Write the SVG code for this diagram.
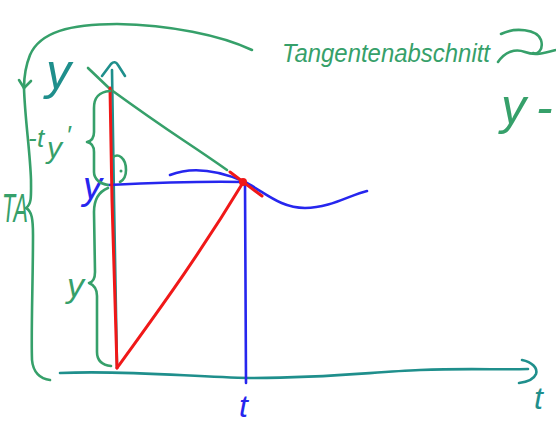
<svg xmlns="http://www.w3.org/2000/svg" width="556" height="425" viewBox="0 0 556 425">
<style>
.g{fill:none;stroke:#36a06a;stroke-width:2.6;stroke-linecap:round;stroke-linejoin:round}
.tl{fill:none;stroke:#1f8f8c;stroke-width:2.6;stroke-linecap:round;stroke-linejoin:round}
.b{fill:none;stroke:#2626ee;stroke-width:2.6;stroke-linecap:round;stroke-linejoin:round}
.r{fill:none;stroke:#f01818;stroke-width:3;stroke-linecap:round;stroke-linejoin:round}
.txt{font-family:"Liberation Sans",Arial,sans-serif;font-style:italic}
.tg{fill:#36a06a}
.tt{fill:#1f8f8c}
.tb{fill:#2626ee}
</style>
<rect width="556" height="425" fill="#ffffff"/>
<g id="axes">
  <path class="tl" d="M112,70 L114,200 L117,368"/>
  <path class="tl" d="M102,76 L111,64 Q115,60 118,65 L125,76"/>
  <path class="tl" d="M60,373 C130,370 190,377 250,378 C330,378 370,372 420,370 C470,368 500,370 528,369"/>
  <path class="tl" d="M522,360 C532,362 538,368 536,374 C534,379 527,382 519,383"/>
  <text class="txt tt" x="46" y="89" font-size="50">y</text>
  <text class="txt tt" x="534" y="409" font-size="32">t</text>
</g>
<g id="curve">
  <path class="b" d="M170,175 Q200,163 243,181 C265,192 280,208 305,208 C330,208 350,195 367,191"/>
  <path class="b" d="M108,185 C150,183 200,181 243,182"/>
  <path class="b" d="M245,182 L246,383"/>
  <text class="txt tb" x="83" y="199" font-size="38">y</text>
  <text class="txt tb" x="239" y="417" font-size="32">t</text>
</g>
<g id="tangent">
  <path class="g" d="M88,68 L110,89 Q150,118 183,140 Q210,158 227,170"/>
  <path class="g" d="M112,158 C118,152 126,158 126,170 C126,176 124,180 120,182"/>
  <circle cx="121" cy="171" r="1.5" fill="#36a06a"/>
</g>
<g id="red">
  <path class="r" d="M110,88 L112,200 L117,368"/>
  <path class="r" d="M117,368 C150,322 195,262 244,181"/>
  <path class="r" d="M230,172 L262,196" stroke-width="5"/>
  <circle cx="243" cy="182" r="4" fill="#f01818"/>
</g>
<g id="braces">
  <path class="g" d="M110,91 C98,92 94,98 94,108 L94,132 C94,138 92,141 87,142 C92,143 94,146 94,152 L94,172 C94,179 100,184 108,185"/>
  <path class="g" d="M108,188 C98,192 94,200 94,212 L95,272 C95,279 93,282 89,283 C94,285 97,289 97,296 L97,352 C97,360 102,365 111,366"/>
  <path class="g" d="M24,88 C25,120 30,150 31,180 C31,195 32,204 26,208 C32,211 33,220 33,235 C33,280 31,330 32,360 C33,372 40,379 50,380"/>
  <path class="g" d="M252,50 C220,35 170,25 117,24 C70,24 40,32 30,55 C26,65 24,75 24,88"/>
  <path class="g" d="M19,80 L24,88 L31,81"/>
  <text class="txt tg" font-size="26" y="147"><tspan x="28">-</tspan><tspan x="37">t</tspan></text>
  <text class="txt tg" x="47" y="158" font-size="30">y</text>
  <text class="txt tg" x="66" y="144" font-size="26">′</text>
  <text class="txt tg" x="67" y="297" font-size="34">y</text>
  <text class="txt tg" x="2" y="222" font-size="40" textLength="26" lengthAdjust="spacingAndGlyphs">TA</text>
</g>
<g id="label">
  <text class="txt tg" x="282" y="62" font-size="26" textLength="208" lengthAdjust="spacingAndGlyphs">Tangentenabschnitt</text>
  <path class="g" d="M501,34 C515,27 537,29 541,40 C544,50 537,55 533,53"/>
  <path class="g" d="M498,62 C505,52 515,48 525,52 C535,56 545,53 556,50"/>
  <text class="txt tg" font-size="50" y="124"><tspan x="501">y</tspan><tspan x="536">-</tspan></text>
</g>
</svg>
